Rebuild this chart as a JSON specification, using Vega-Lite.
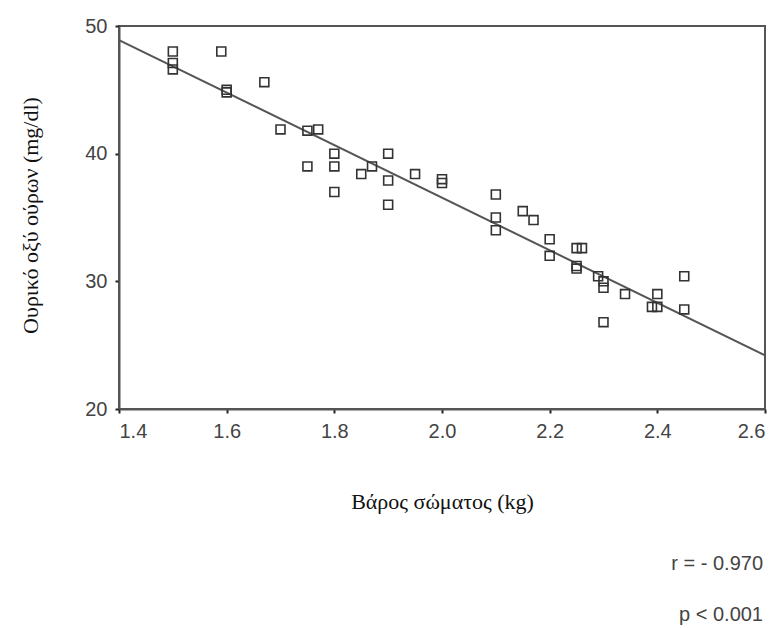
{
  "$schema": "https://vega.github.io/schema/vega-lite/v6.json",
  "autosize": {"type": "none"},
  "padding": {"left": 119, "top": 26, "right": 15, "bottom": 219},
  "width": 646,
  "height": 383,
  "background": "white",
  "config": {
    "view": {"stroke": "#555", "strokeWidth": 2},
    "axis": {
      "grid": false,
      "domainColor": "#555",
      "domainWidth": 2,
      "tickColor": "#222",
      "tickSize": 4,
      "tickWidth": 2,
      "labelFont": "Liberation Sans",
      "labelFontSize": 20,
      "labelColor": "#444",
      "titleFont": "Liberation Serif",
      "titleFontSize": 22,
      "titleFontWeight": "normal",
      "titleColor": "#111"
    }
  },
  "title": {
    "text": ["r = - 0.970", "p < 0.001"],
    "orient": "bottom",
    "anchor": "end",
    "font": "Liberation Sans",
    "fontSize": 20,
    "fontWeight": "normal",
    "color": "#444",
    "lineHeight": 51,
    "offset": 42,
    "dx": -6
  },
  "datasets": {
    "points": [
      {"w": 1.50, "u": 48.0}, {"w": 1.50, "u": 47.1}, {"w": 1.50, "u": 46.6},
      {"w": 1.59, "u": 48.0}, {"w": 1.60, "u": 45.0}, {"w": 1.60, "u": 44.8},
      {"w": 1.67, "u": 45.6}, {"w": 1.70, "u": 41.9}, {"w": 1.75, "u": 41.8},
      {"w": 1.77, "u": 41.9}, {"w": 1.75, "u": 39.0}, {"w": 1.80, "u": 40.0},
      {"w": 1.80, "u": 39.0}, {"w": 1.80, "u": 37.0}, {"w": 1.85, "u": 38.4},
      {"w": 1.87, "u": 39.0}, {"w": 1.90, "u": 40.0}, {"w": 1.90, "u": 37.9},
      {"w": 1.90, "u": 36.0}, {"w": 1.95, "u": 38.4}, {"w": 2.00, "u": 38.0},
      {"w": 2.00, "u": 37.7}, {"w": 2.10, "u": 36.8}, {"w": 2.10, "u": 35.0},
      {"w": 2.10, "u": 34.0}, {"w": 2.15, "u": 35.5}, {"w": 2.17, "u": 34.8},
      {"w": 2.20, "u": 33.3}, {"w": 2.20, "u": 32.0}, {"w": 2.25, "u": 32.6},
      {"w": 2.26, "u": 32.6}, {"w": 2.25, "u": 31.2}, {"w": 2.25, "u": 31.0},
      {"w": 2.29, "u": 30.4}, {"w": 2.30, "u": 30.0}, {"w": 2.30, "u": 29.5},
      {"w": 2.30, "u": 26.8}, {"w": 2.34, "u": 29.0}, {"w": 2.40, "u": 29.0},
      {"w": 2.39, "u": 28.0}, {"w": 2.40, "u": 28.0}, {"w": 2.45, "u": 30.4},
      {"w": 2.45, "u": 27.8}
    ],
    "fit": [{"w": 1.4, "u": 48.9}, {"w": 2.6, "u": 24.2}]
  },
  "layer": [
    {
      "data": {"name": "fit"},
      "mark": {"type": "line", "color": "#555", "strokeWidth": 2},
      "encoding": {
        "x": {"field": "w", "type": "quantitative"},
        "y": {"field": "u", "type": "quantitative"}
      }
    },
    {
      "data": {"name": "points"},
      "mark": {"type": "point", "shape": "square", "filled": false, "size": 80, "stroke": "#333", "strokeWidth": 1.6, "opacity": 1},
      "encoding": {
        "x": {
          "field": "w", "type": "quantitative",
          "scale": {"domain": [1.4, 2.6], "nice": false, "zero": false},
          "axis": {"values": [1.4, 1.6, 1.8, 2.0, 2.2, 2.4, 2.6], "format": ".1f", "labelPadding": 8, "title": "Βάρος σώματος (kg)", "titlePadding": 50}
        },
        "y": {
          "field": "u", "type": "quantitative",
          "scale": {"domain": [20, 50], "nice": false, "zero": false},
          "axis": {"values": [20, 30, 40, 50], "labelPadding": 8, "title": "Ουρικό οξύ ούρων (mg/dl)", "titlePadding": 42, "titleY": 189, "titleAlign": "center"}
        }
      }
    }
  ]
}
